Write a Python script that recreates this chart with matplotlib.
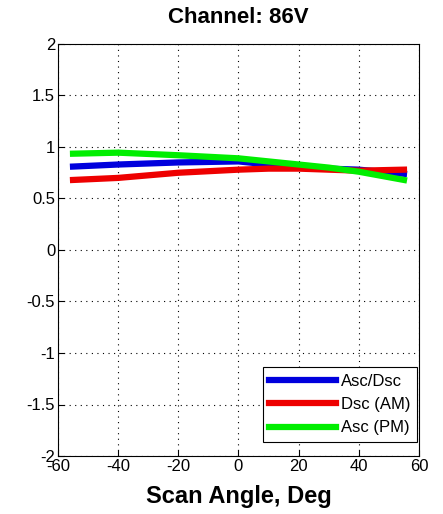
import matplotlib
matplotlib.use("Agg")
import matplotlib.pyplot as plt
import numpy as np

plt.rcParams['font.family'] = ['Liberation Sans', 'DejaVu Sans']
plt.rcParams['axes.unicode_minus'] = False

angles = [-55, -40, -20, 0, 10, 20, 30, 40, 55]
asc_dsc = [0.81, 0.83, 0.85, 0.86, 0.83, 0.80, 0.79, 0.78, 0.74]
dsc_am = [0.68, 0.70, 0.75, 0.78, 0.79, 0.79, 0.78, 0.77, 0.78]
asc_pm = [0.935, 0.945, 0.92, 0.89, 0.86, 0.83, 0.80, 0.76, 0.68]

fig = plt.figure(figsize=(4.43, 5.14), dpi=100)
ax = fig.add_axes([58/443, 1-456/514, (419-58)/443, (456-44)/514])
ax.plot(angles, asc_dsc, color='#0000dd', lw=4.5, label='Asc/Dsc')
ax.plot(angles, dsc_am, color='#ee0000', lw=4.5, label='Dsc (AM)')
ax.plot(angles, asc_pm, color='#00ee00', lw=4.5, label='Asc (PM)')
ax.set_xlim(-60, 60)
ax.set_ylim(-2, 2)
ax.set_xticks([-60, -40, -20, 0, 20, 40, 60])
ax.set_yticks([-2, -1.5, -1, -0.5, 0, 0.5, 1, 1.5, 2])
ax.set_yticklabels(['-2', '-1.5', '-1', '-0.5', '0', '0.5', '1', '1.5', '2'])
ax.grid(True, linestyle=(0, (1, 4)), color='black', linewidth=0.8)
ax.tick_params(direction='in', labelsize=12, length=4, pad=2)
for s in ax.spines.values():
    s.set_linewidth(0.8)
ax.set_title('Channel: 86V', fontsize=16, fontweight='bold', pad=15)
ax.set_xlabel('Scan Angle, Deg', fontsize=17, fontweight='bold', labelpad=8)
leg = ax.legend(loc='lower right', fontsize=12, fancybox=False, framealpha=1,
                edgecolor='black', handlelength=4.0, borderpad=0.4,
                labelspacing=0.5, handletextpad=0.3, borderaxespad=0,
                bbox_to_anchor=(417/443, 1-442/514), bbox_transform=fig.transFigure)
leg.get_frame().set_linewidth(0.8)
fig.savefig('out.png', dpi=100)
